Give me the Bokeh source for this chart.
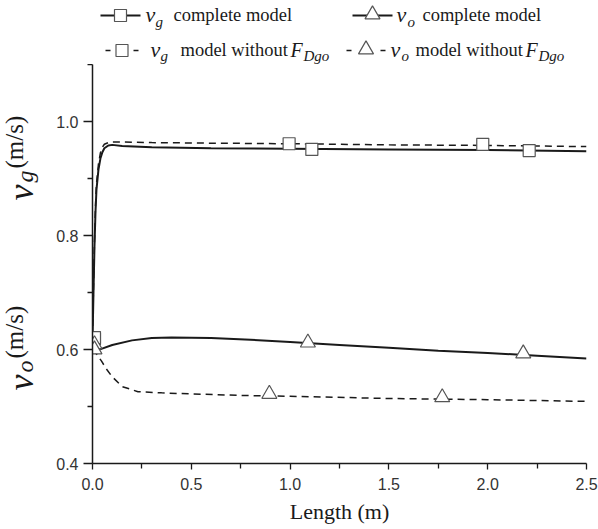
from bokeh.plotting import figure
from bokeh.layouts import column, row
from bokeh.models import FixedTicker, Range1d
from bokeh.core.properties import value
from bokeh.embed import file_html
from bokeh.resources import INLINE

# ---------------- data ----------------
vg_c_x = [0.0, 0.005, 0.01, 0.015, 0.02, 0.03, 0.04, 0.05, 0.06, 0.08, 0.1, 0.15, 0.3, 0.6, 1.0, 1.5, 2.0, 2.5]
vg_c_y = [0.615, 0.70, 0.78, 0.84, 0.88, 0.915, 0.935, 0.946, 0.953, 0.958, 0.959, 0.957, 0.955, 0.953, 0.952, 0.951, 0.950, 0.948]

vg_n_x = [0.0, 0.005, 0.01, 0.015, 0.02, 0.03, 0.04, 0.05, 0.06, 0.08, 0.1, 0.15, 0.3, 0.6, 1.0, 1.5, 2.0, 2.5]
vg_n_y = [0.62, 0.71, 0.79, 0.85, 0.89, 0.925, 0.945, 0.955, 0.96, 0.963, 0.964, 0.964, 0.963, 0.962, 0.961, 0.959, 0.958, 0.956]

vo_c_x = [0.0, 0.02, 0.045, 0.1, 0.2, 0.3, 0.4, 0.6, 0.8, 1.0, 1.25, 1.5, 1.75, 2.0, 2.25, 2.5]
vo_c_y = [0.61, 0.603, 0.601, 0.608, 0.616, 0.62, 0.621, 0.62, 0.617, 0.613, 0.608, 0.603, 0.598, 0.594, 0.589, 0.584]

vo_n_x = [0.0, 0.02, 0.045, 0.07, 0.1, 0.15, 0.23, 0.35, 0.5, 0.8, 1.0, 1.5, 2.0, 2.5]
vo_n_y = [0.60, 0.592, 0.58, 0.566, 0.552, 0.535, 0.526, 0.524, 0.522, 0.519, 0.518, 0.514, 0.512, 0.509]

# marker positions (every Nth point in the original)
vg_c_mx = [0.01, 1.11, 2.21]
vg_c_my = [0.619, 0.951, 0.949]
vg_n_mx = [0.01, 0.995, 1.975]
vg_n_my = [0.621, 0.961, 0.960]
vo_c_mx = [0.01, 1.09, 2.18]
vo_c_my = [0.609, 0.612, 0.593]
vo_n_mx = [0.01, 0.895, 1.77]
vo_n_my = [0.600, 0.522, 0.516]

x_ticks = [0.0, 0.5, 1.0, 1.5, 2.0, 2.5]
x_tick_labels = ["0.0", "0.5", "1.0", "1.5", "2.0", "2.5"]
x_minor = [0.25, 0.75, 1.25, 1.75, 2.25]
y_ticks = [0.4, 0.6, 0.8, 1.0]
y_tick_labels = ["0.4", "0.6", "0.8", "1.0"]
y_minor = [0.5, 0.7, 0.9, 1.1]

SERIF = "Liberation Serif"
SANS = "Liberation Sans"
INK = "#1a1a1a"
MK = "#555555"


def blank(w, h, flip=True):
    yr = Range1d(h, 0) if flip else Range1d(0, h)
    f = figure(width=w, height=h, x_range=Range1d(0, w), y_range=yr,
               output_backend="svg", toolbar_location=None,
               x_axis_location=None, y_axis_location=None,
               min_border_left=0, min_border_right=0, min_border_top=0, min_border_bottom=0)
    f.grid.visible = False
    f.outline_line_color = None
    f.frame_align = False
    return f


def txt(f, x, y, t, size, style, angle=0.0):
    f.text(x=[x], y=[y], text=[t], angle=angle, text_font=value(SERIF), text_font_size=size,
           text_font_style=style, text_color=INK, text_align="left", text_baseline="middle")


# ---------------- legend strip (pixel coordinates) ----------------
lf = blank(598, 64)
lf.line([100, 140], [15, 15], line_color=INK, line_width=2)
lf.scatter([120], [15], marker="square", size=12, fill_color="white", line_color=MK, line_width=1.2)
lf.line([352, 392], [15, 15], line_color=INK, line_width=2)
lf.scatter([372], [14], marker="triangle", size=15, fill_color="white", line_color=MK, line_width=1.2)
for a, b in [(105, 110), (133, 138), (346, 351), (380, 385)]:
    lf.line([a, b], [50, 50], line_color=INK, line_width=1.5)
lf.scatter([121.5], [50], marker="square", size=12, fill_color="white", line_color=MK, line_width=1.2)
lf.scatter([365.5], [49], marker="triangle", size=15, fill_color="white", line_color=MK, line_width=1.2)

txt(lf, 145, 13.5, "v", "22px", "italic")
txt(lf, 155, 21.5, "g", "15px", "italic")
txt(lf, 173, 14.5, "complete model", "18.5px", "normal")
txt(lf, 396, 13.5, "v", "22px", "italic")
txt(lf, 407, 21.5, "o", "15px", "italic")
txt(lf, 422, 14.5, "complete model", "18.5px", "normal")

txt(lf, 150, 48.5, "v", "22px", "italic")
txt(lf, 160, 55.5, "g", "15px", "italic")
txt(lf, 180, 49.5, "model without", "18.5px", "normal")
txt(lf, 290, 49, "F", "20px", "italic")
txt(lf, 303, 55.5, "Dgo", "15px", "italic")
txt(lf, 390, 48.5, "v", "22px", "italic")
txt(lf, 401, 55.5, "o", "15px", "italic")
txt(lf, 415, 49.5, "model without", "18.5px", "normal")
txt(lf, 525, 49, "F", "20px", "italic")
txt(lf, 538, 55.5, "Dgo", "15px", "italic")

# ---------------- y-axis titles strip (pixel coords, y up from the strip bottom) ----------------
yl = blank(53, 465, flip=False)
R = 1.5708
txt(yl, 20, 329, "v", "36px", "italic", R)
txt(yl, 24, 347, "g", "24px", "italic", R)
txt(yl, 14, 361, "(m/s)", "25px", "normal", R)
txt(yl, 20, 139, "v", "36px", "italic", R)
txt(yl, 24, 157, "o", "24px", "italic", R)
txt(yl, 14, 171, "(m/s)", "25px", "normal", R)

# ---------------- main plot ----------------
p = figure(width=545, height=465, x_range=Range1d(0, 2.5), y_range=Range1d(0.4, 1.1),
           output_backend="svg", toolbar_location=None,
           min_border_left=38, min_border_right=12, min_border_top=0, min_border_bottom=66)
p.frame_align = False
p.grid.visible = False
p.outline_line_color = None

p.line(vg_c_x, vg_c_y, line_color=INK, line_width=2)
p.line(vg_n_x, vg_n_y, line_color=INK, line_width=1.5, line_dash="7 5")
p.line(vo_c_x, vo_c_y, line_color=INK, line_width=2)
p.line(vo_n_x, vo_n_y, line_color=INK, line_width=1.5, line_dash="7 5")

p.scatter(vg_c_mx, vg_c_my, marker="square", size=12, fill_color="white", line_color=MK, line_width=1.2)
p.scatter(vg_n_mx, vg_n_my, marker="square", size=12, fill_color="white", line_color=MK, line_width=1.2)
p.scatter(vo_c_mx, vo_c_my, marker="triangle", size=15, fill_color="white", line_color=MK, line_width=1.2)
p.scatter(vo_n_mx, vo_n_my, marker="triangle", size=15, fill_color="white", line_color=MK, line_width=1.2)

xa = p.xaxis[0]
xa.ticker = FixedTicker(ticks=x_ticks, minor_ticks=x_minor)
xa.major_label_overrides = {t: l for t, l in zip(x_ticks, x_tick_labels)}
xa.major_tick_out = 6
xa.major_tick_in = 0
xa.minor_tick_out = 5
xa.minor_tick_in = 0
xa.major_label_standoff = 8
xa.axis_label = "Length (m)"
xa.axis_label_standoff = 6
xa.axis_label_text_font = SERIF
xa.axis_label_text_font_style = "normal"
xa.axis_label_text_font_size = "22px"
xa.axis_label_text_color = INK

ya = p.yaxis[0]
ya.ticker = FixedTicker(ticks=y_ticks, minor_ticks=y_minor)
ya.major_label_overrides = {t: l for t, l in zip(y_ticks, y_tick_labels)}
ya.major_tick_out = 9
ya.major_tick_in = 0
ya.minor_tick_out = 5
ya.minor_tick_in = 0
ya.major_label_standoff = 5

for ax in (xa, ya):
    ax.axis_line_color = INK
    ax.axis_line_width = 1.5
    ax.major_tick_line_color = INK
    ax.minor_tick_line_color = INK
    ax.major_tick_line_width = 1.3
    ax.minor_tick_line_width = 1.3
    ax.major_label_text_font = SANS
    ax.major_label_text_font_size = "16px"
    ax.major_label_text_color = "#333333"

layout = column(lf, row(yl, p, spacing=0), spacing=0)
open("out.html", "w").write(file_html(layout, INLINE))
